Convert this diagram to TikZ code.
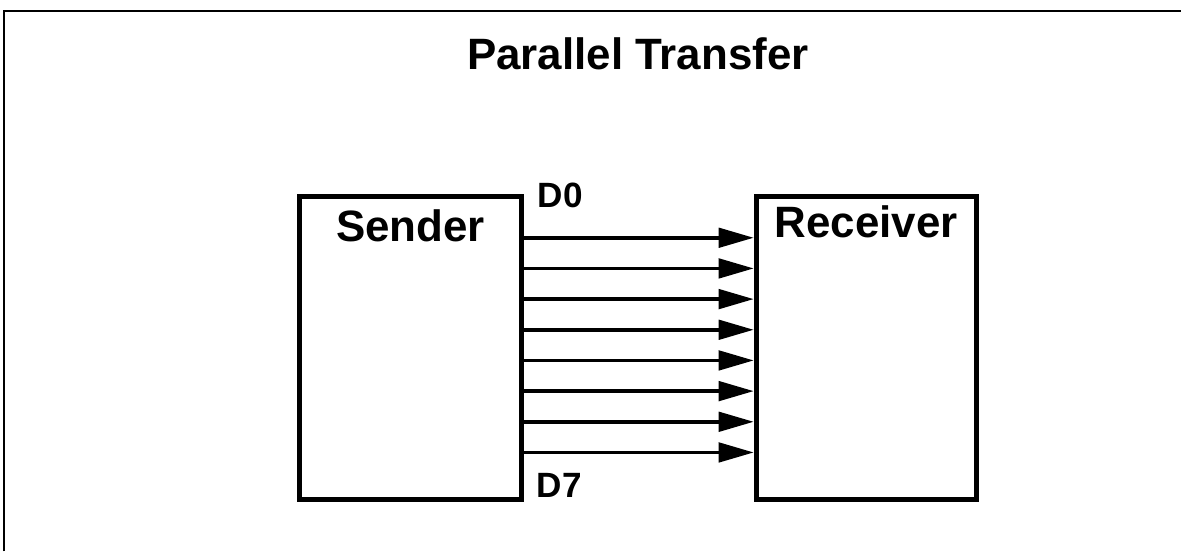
\documentclass[tikz,border=0pt]{standalone}
\usepackage{fontspec}
\setmainfont{Liberation Sans}
\usetikzlibrary{positioning,arrows.meta,calc}

\begin{document}
\begin{tikzpicture}[font=\bfseries, >={Triangle[length=20pt,width=11pt]},
    unit/.style={draw, line width=2.8pt, minimum height=6.06cm, inner sep=0pt},
    bigtext/.style={font=\fontsize{25}{30}\selectfont\bfseries, inner sep=0pt, anchor=base},
    bus/.style={->, line width=2.2pt},
    tag/.style={font=\fontsize{20}{24}\selectfont\bfseries, inner sep=0pt, anchor=base west}]
  \fill[white] (0,0) rectangle (23.64,11.04);
  \draw[line width=1.3pt] (0.08,0) -- (0.08,10.82) -- (23.64,10.82);
  \node[bigtext] (title) at (12.77,9.64) {Parallel Transfer};
  \node[unit, minimum width=4.44cm] (snd) at (8.22,4.07) {};
  \node[unit, minimum width=4.40cm] (rcv) at (17.34,4.07) {};
  \node[bigtext] (sndlbl) at (8.22,6.2) {Sender};
  \node[bigtext] (rcvlbl) at (17.34,6.28) {Receiver};
  \foreach \i in {0,...,7} {
    \pgfmathsetmacro\yy{6.28-0.614*\i}
    \draw[bus] (snd.east |- 0,\yy) -- (rcv.west |- 0,\yy);
  }
  \node[tag] (d0) at (10.76,6.88) {D0};
  \node[tag] (d7) at (10.74,1.08) {D7};
\end{tikzpicture}
\end{document}
